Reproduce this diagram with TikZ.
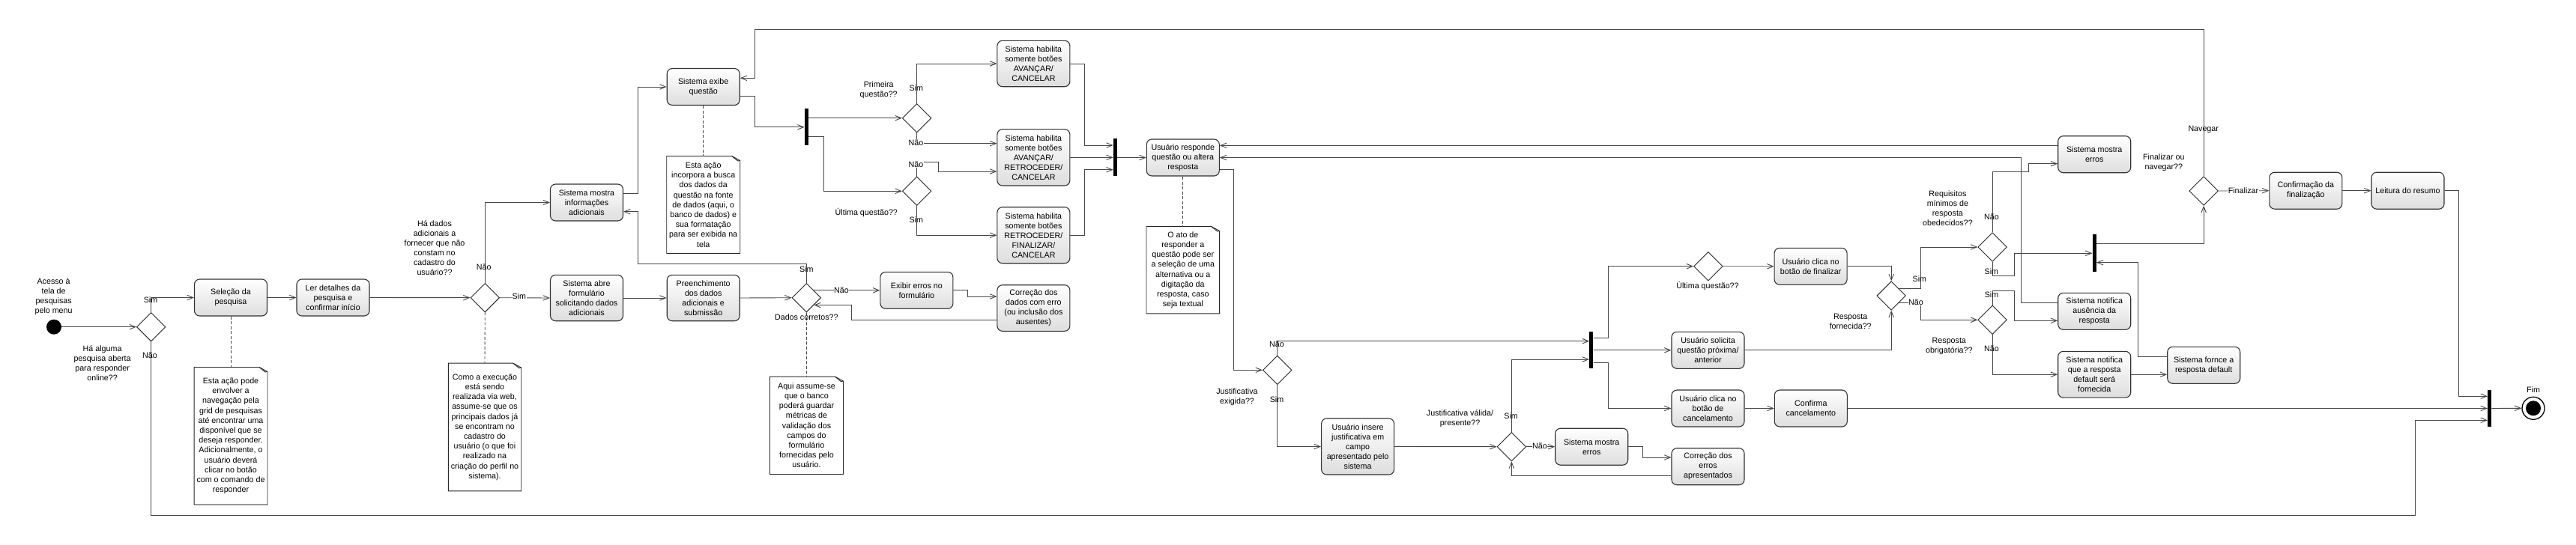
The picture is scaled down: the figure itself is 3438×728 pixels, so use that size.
\documentclass[tikz,border=0pt]{standalone}
\usepackage{fontspec}
\setmainfont{Liberation Sans}
\usetikzlibrary{arrows.meta,shapes.geometric,calc}
\newcommand\diagfont{\fontsize{10.7}{13}\selectfont}
\newcommand\notefont{\fontsize{10.7}{13.2}\selectfont}
\tikzset{
  box/.style={rectangle, rounded corners=7pt, draw=black!80, line width=1.1pt,
    top color=white, bottom color=black!13, minimum width=97pt, minimum height=#1,
    align=center, inner sep=1pt, font=\diagfont},
  box/.default=49pt,
  dec/.style={diamond, draw=black!85, line width=0.9pt, fill=white,
    minimum width=38.6pt, minimum height=38.6pt, inner sep=0pt},
  forkbar/.style={rectangle, fill=black, draw=none, minimum width=5pt, minimum height=#1, inner sep=0pt},
  notebox/.style={rectangle, draw=none, fill=white, align=center, inner sep=0pt, font=\notefont},
  lbl/.style={align=center, inner sep=1pt, font=\diagfont},
  lblw/.style={lbl, fill=white, inner sep=0.5pt},
  conn/.style={draw=black!72, line width=0.9pt},
  arr/.style={conn, -{Straight Barb[length=8pt,width=6.5pt]}},
  notelink/.style={draw=black!72, line width=0.9pt, dashed, dash pattern=on 4pt off 2.5pt},
}
\newcommand\drawnote[1]{%
  \draw[black!85, line width=0.9pt] (#1.north west) -- ([xshift=-11pt]#1.north east) -- ([yshift=-6pt]#1.north east) -- (#1.south east) -- (#1.south west) -- cycle;
  \draw[black!85, line width=0.9pt] ([xshift=-11pt]#1.north east) -- ([xshift=-3pt,yshift=-6.5pt]#1.north east) -- ([yshift=-6pt]#1.north east);}
\begin{document}
\begin{tikzpicture}[x=1pt,y=-1pt]
\useasboundingbox (0,0) rectangle (3438,728);
\fill[white] (0,0) rectangle (3438,728);

% ---------- nodes ----------
\node[circle, fill=black, minimum size=20pt, inner sep=0pt] (start) at (72,436.7) {};
\node[dec] (d1) at (201.7,436.7) {};
\node[box] (sel) at (308,397.5) {Seleção da\\pesquisa};
\node[box] (ler) at (444.5,397.5) {Ler detalhes da\\pesquisa e\\confirmar início};
\node[notebox, minimum width=97.5pt, minimum height=183.3pt] (note1) at (308,582.3)
  {Esta ação pode\\envolver a\\navegação pela\\grid de pesquisas\\até encontrar uma\\disponível que se\\deseja responder.\\Adicionalmente, o\\usuário deverá\\clicar no botão\\com o comando de\\responder};
\node[dec] (d2) at (647.3,397.7) {};
\node[notebox, minimum width=97pt, minimum height=170.4pt] (note2) at (647,570.5)
  {Como a execução\\está sendo\\realizada via web,\\assume-se que os\\principais dados já\\se encontram no\\cadastro do\\usuário (o que foi\\realizado na\\criação do perfil no\\sistema).};
\node[box] (smi) at (783,270.5) {Sistema mostra\\informações\\adicionais};
\node[box=61.4pt] (sab) at (783,398) {Sistema abre\\formulário\\solicitando dados\\adicionais};
\node[box=61.4pt] (pre) at (938.7,398) {Preenchimento\\dos dados\\adicionais e\\submissão};
\node[dec] (d3) at (1076.3,397.7) {};
\node[notebox, minimum width=97.6pt, minimum height=130pt] (note5) at (1076.5,568.3)
  {Aqui assume-se\\que o banco\\poderá guardar\\métricas de\\validação dos\\campos do\\formulário\\fornecidas pelo\\usuário.};
\node[box] (sex) at (938.7,116) {Sistema exibe\\questão};
\node[notebox, minimum width=97.6pt, minimum height=129.6pt] (note3) at (938.7,273.5)
  {Esta ação\\incorpora a busca\\dos dados da\\questão na fonte\\de dados (aqui, o\\banco de dados) e\\sua formatação\\para ser exibida na\\tela};
\node[forkbar=49pt] (bar1) at (1076.3,169.8) {};
\node[dec] (d4) at (1223.6,157.7) {};
\node[dec] (d5) at (1223.6,255.3) {};
\node[box=61.4pt] (h1) at (1379.4,85) {Sistema habilita\\somente botões\\AVANÇAR/\\CANCELAR};
\node[box=75.3pt] (h2) at (1379.4,210.3) {Sistema habilita\\somente botões\\AVANÇAR/\\RETROCEDER/\\CANCELAR};
\node[box=75pt] (h3) at (1379.4,314.2) {Sistema habilita\\somente botões\\RETROCEDER/\\FINALIZAR/\\CANCELAR};
\node[forkbar=50pt] (bar2) at (1488.4,210.3) {};
\node[box] (ur) at (1578.8,210.5) {Usuário responde\\questão ou altera\\resposta};
\node[notebox, minimum width=97.2pt, minimum height=116pt] (note4) at (1578.8,360.7)
  {O ato de\\responder a\\questão pode ser\\a seleção de uma\\alternativa ou a\\digitação da\\resposta, caso\\seja textual};
\node[box] (exi) at (1223.4,387.8) {Exibir erros no\\formulário};
\node[box=61.6pt] (cor) at (1379.4,411.5) {Correção dos\\dados com erro\\(ou inclusão dos\\ausentes)};
\node[dec] (d6) at (1704.7,494.3) {};
\node[box=75pt] (ins) at (1812.1,596.5) {Usuário insere\\justificativa em\\campo\\apresentado pelo\\sistema};
\node[dec] (d7) at (2017.4,596.7) {};
\node[box] (sme2) at (2124.2,596.7) {Sistema mostra\\erros};
\node[box] (coe) at (2279.5,623.2) {Correção dos\\erros\\apresentados};
\node[forkbar=49pt] (bar3) at (2123.8,467.8) {};
\node[dec] (d8) at (2279.9,355.7) {};
\node[box] (fin) at (2416.6,355.8) {Usuário clica no\\botão de finalizar};
\node[box] (sol) at (2279.5,467.8) {Usuário solicita\\questão próxima/\\anterior};
\node[box] (can) at (2279.5,545.5) {Usuário clica no\\botão de\\cancelamento};
\node[box] (ccan) at (2416.8,545.5) {Confirma\\cancelamento};
\node[dec] (d9) at (2524.2,395) {};
\node[dec] (d10) at (2659.1,330) {};
\node[dec] (d11) at (2659.1,427.3) {};
\node[box] (sme3) at (2795.2,206.2) {Sistema mostra\\erros};
\node[box] (sna) at (2795.2,415.8) {Sistema notifica\\ausência da\\resposta};
\node[box=61.7pt] (snd) at (2795.2,500.2) {Sistema notifica\\que a resposta\\default será\\fornecida};
\node[box] (sfd) at (2941.2,487.8) {Sistema fornce a\\resposta default};
\node[forkbar=50pt] (bar4) at (2795.1,338.3) {};
\node[dec] (d12) at (2941.1,255) {};
\node[box] (cfin) at (3077.3,254.7) {Confirmação da\\finalização};
\node[box] (lei) at (3213.5,254.7) {Leitura do resumo};
\node[forkbar=49pt] (bar5) at (3322.6,545.5) {};
\node[circle, draw=black, line width=1.3pt, fill=white, minimum size=30pt, inner sep=0pt] (fim) at (3381,545.3) {};
\fill[black] (fim.center) circle (10pt);

% ---------- notes ----------
\drawnote{note1}
\drawnote{note2}
\drawnote{note3}
\drawnote{note4}
\drawnote{note5}
\draw[notelink] (sel.south) -- (note1.north);
\draw[notelink] (d2.south) -- (note2.north);
\draw[notelink] (sex.south) -- (note3.north);
\draw[notelink] ([yshift=-0.5pt]ur.south) -- (note4.north);
\draw[notelink] (d3.south) -- (note5.north);

% ---------- connectors ----------
\draw[arr] (start) -- (d1.west);
\draw[arr] (d1.north) |- (sel.west);
\draw[arr] (sel) -- (ler);
\draw[arr] (ler.east) -- (d2.west);
\draw[arr] (d2.east) -- (sab.west);
\draw[arr] (d2.north) |- (smi.west);
\draw[arr] (sab) -- (pre);
\draw[arr] (pre.east) -- (d3.west);
\draw[arr] (d3.north) |- (851.2,352.3) |- ([yshift=-12.2pt]smi.east);
\draw[arr] (d3.north east) -- (d3.north east -| exi.west);
\draw[arr] (exi.east) -- ++(19.2,0) |- ([yshift=15.5pt]cor.west);
\draw[arr] ([yshift=-15.8pt]cor.west) -| ([xshift=50.4pt]d3.south east) -- (d3.south east);
\draw[arr] ([yshift=12.2pt]smi.east) -- ++(19.5,0) |- (sex.west);
\draw[arr] ([yshift=-12pt]sex.east) -- ++(19.5,0) |- (bar1.west);
\draw[arr] (d4.west -| bar1.east) -- (d4.west);
\draw[arr] ([yshift=-12.2pt]bar1.east) -- ++(20,0) |- (d5.west);
\draw[arr] (d4.north) |- (h1.west);
\draw[arr] (d4.south) |- ([yshift=18.6pt]h2.west);
\draw[arr] (d5.north) |- (1252.7,216.7) |- ([yshift=-18.7pt]h2.west);
\draw[arr] (d5.south) |- (h3.west);
\draw[arr] (h1.east) -- ++(19,0) |- ([yshift=16.3pt]bar2.west);
\draw[arr] (h2.east) -- (bar2.west);
\draw[arr] (h3.east) -- ++(19,0) |- ([yshift=-16.4pt]bar2.west);
\draw[arr] (bar2.east) -- (ur.west);
\draw[arr] ([yshift=-16.2pt]ur.east) -- ++(19,0) |- (d6.west);
\draw[arr] (d6.north) |- ([yshift=12.1pt]bar3.west);
\draw[arr] (d6.south) |- (ins.west);
\draw[arr] (ins.east) -- (d7.west);
\draw[arr] (d7.north) |- ([yshift=-12.2pt]bar3.west);
\draw[arr] (d7.east) -- (sme2.west);
\draw[arr] (sme2.east) -- ++(19.5,0) |- ([yshift=12.2pt]coe.west);
\draw[arr] ([yshift=-12.1pt]coe.west) -| (d7.south);
\draw[arr] ([yshift=16.1pt]bar3.east) -- ++(20,0) |- (d8.west);
\draw[arr] (bar3.east) -- (sol.west);
\draw[arr] ([yshift=-16.2pt]bar3.east) -- ++(20,0) |- (can.west);
\draw[arr] (d8.east) -- (fin.west);
\draw[arr] (fin.east) -| (d9.north);
\draw[arr] (sol.east) -| (d9.south);
\draw[arr] (can) -- (ccan);
\draw[arr] (ccan.east) -- (bar5.west);
\draw[arr] (d9.north east) -- ++(29,0) |- (d10.west);
\draw[arr] (d9.south east) -- ++(29,0) |- (d11.west);
\draw[arr] (d10.north) |- (2707.3,229.3) |- ([yshift=-12.5pt]sme3.west);
\draw[arr] (d10.south) |- (2688.3,368.3) |- (bar4.west);
\draw[arr] (d11.north) |- (2688.3,388.7) |- ([yshift=-12.5pt]sna.west);
\draw[arr] (d11.south) |- (snd.west);
\draw[arr] ([yshift=11.9pt]sme3.west) -- ([yshift=16.2pt]ur.east);
\draw[arr] ([yshift=11.8pt]sna.west) -| (2697.4,210.5) -- (ur.east);
\draw[arr] (snd.east) -- (snd.east -| sfd.west);
\draw[arr] ([yshift=11.8pt]sfd.west) -- (2853.4,476) |- ([yshift=-12.4pt]bar4.east);
\draw[arr] ([yshift=12.6pt]bar4.east) -| (d12.south);
\draw[arr] (d12.east) -- (cfin.west);
\draw[arr] (d12.north) |- (1007,39.3) |- ([yshift=11.7pt]sex.east);
\draw[arr] (cfin) -- (lei);
\draw[arr] (lei.east) -- ++(19.3,0) |- ([yshift=16.2pt]bar5.west);
\draw[arr] (d1.south) |- (3223.1,688.7) |- ([yshift=-15.8pt]bar5.west);
\draw[arr] (bar5.east) -- (fim.west);

% ---------- labels ----------
\node[lbl] (l1) at (71.6,396.5) {Acesso à\\tela de\\pesquisas\\pelo menu};
\node[lbl] (l2) at (136.6,485) {Há alguma\\pesquisa aberta\\para responder\\online??};
\node[lbl] (l3) at (580,331) {Há dados\\adicionais a\\fornecer que não\\constam no\\cadastro do\\usuário??};
\node[lbl] (l4) at (1076.3,424) {Dados corretos??};
\node[lbl] (l5) at (1172.7,120) {Primeira\\questão??};
\node[lbl] (l6) at (1156.3,284.3) {Última questão??};
\node[lbl] (l7) at (1651,530) {Justificativa\\exigida??};
\node[lbl] (l8) at (1948.5,559) {Justificativa válida/\\presente??};
\node[lbl] (l9) at (2279,382.3) {Última questão??};
\node[lbl] (l10) at (2469.7,429.3) {Resposta\\fornecida??};
\node[lbl] (l11) at (2599.4,278) {Requisitos\\mínimos de\\resposta\\obedecidos??};
\node[lbl] (l12) at (2601.3,462) {Resposta\\obrigatória??};
\node[lbl] (l13) at (2887.8,217) {Finalizar ou\\navegar??};
\node[lbl] (l14) at (3381,521) {Fim};

\node[lbl] (s1) at (201,401) {Sim};
\node[lbl] (n1) at (200,475) {Não};
\node[lblw] (s2) at (692.8,396) {Sim};
\node[lbl] (n2) at (645.7,357) {Não};
\node[lbl] (s3) at (1076.3,360) {Sim};
\node[lblw] (n3) at (1123,387.3) {Não};
\node[lbl] (s4) at (1222.8,117.3) {Sim};
\node[lblw] (n4) at (1222.5,190.3) {Não};
\node[lblw] (n5) at (1222.5,220) {Não};
\node[lbl] (s5) at (1222.8,293.3) {Sim};
\node[lbl] (n6) at (1704,460) {Não};
\node[lbl] (s6) at (1704,533.3) {Sim};
\node[lbl] (s7) at (2016.6,556) {Sim};
\node[lblw] (n7) at (2054.9,596) {Não};
\node[lbl] (s9) at (2561.8,372.3) {Sim};
\node[lblw] (n9) at (2557,403.3) {Não};
\node[lbl] (n10) at (2657.9,290) {Não};
\node[lbl] (s10) at (2657.9,362.3) {Sim};
\node[lbl] (s11) at (2658,393.3) {Sim};
\node[lbl] (n11) at (2658,466) {Não};
\node[lbl] (nav) at (2940.7,173.3) {Navegar};
\node[lblw] (fz) at (2994,254.3) {Finalizar};
\end{tikzpicture}
\end{document}
